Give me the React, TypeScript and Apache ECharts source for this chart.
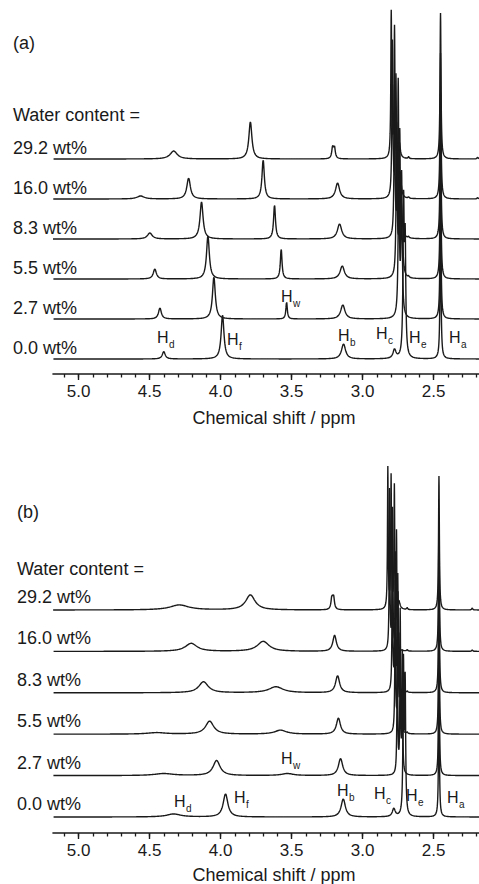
import React, { useEffect, useRef } from "react";
import * as echarts from "echarts";

// ---------- data ----------
const traceLabels = ["0.0 wt%", "2.7 wt%", "5.5 wt%", "8.3 wt%", "16.0 wt%", "29.2 wt%"];
const tickLabels = [5.0, 4.5, 4.0, 3.5, 3.0, 2.5];
const minorTicks = [5.1, 5.0, 4.9, 4.8, 4.7, 4.6, 4.5, 4.4, 4.3, 4.2, 4.1, 4.0, 3.9, 3.8, 3.7, 3.6, 3.5, 3.4, 3.3, 3.2, 3.1, 3.0, 2.9, 2.8, 2.7, 2.6, 2.5, 2.4, 2.3, 2.2];

// peaks: [chemical shift (ppm), height, half width (ppm)]
// panel (a)
const peaksA00 = [[4.40, 7.5, 0.012], [3.986, 44, 0.012], [3.134, 15, 0.017], [2.775, 9, 0.012], [2.711, 150, 0.005], [2.700, 110, 0.005], [2.451, 146, 0.004]];
const peaksA27 = [[4.427, 11, 0.012], [4.047, 42, 0.012], [3.535, 17, 0.006], [3.139, 14, 0.018], [2.745, 150, 0.005], [2.725, 140, 0.005], [2.451, 146, 0.004]];
const peaksA55 = [[4.463, 10, 0.013], [4.089, 43, 0.012], [3.573, 30, 0.007], [3.143, 13, 0.018], [2.760, 150, 0.0045], [2.738, 140, 0.0045], [2.720, 30, 0.008], [2.451, 146, 0.004], [2.676, 1.5, 0.004]];
const peaksA83 = [[4.498, 6, 0.02], [4.134, 37, 0.013], [3.620, 34, 0.008], [3.162, 15, 0.018], [2.775, 150, 0.004], [2.749, 154, 0.004], [2.728, 30, 0.008], [2.451, 146, 0.004], [2.676, 1.5, 0.004]];
const peaksA160 = [[4.563, 3, 0.03], [4.225, 21, 0.015], [3.700, 39, 0.01], [3.176, 16, 0.017], [2.790, 156, 0.004], [2.765, 120, 0.004], [2.735, 25, 0.008], [2.451, 146, 0.004], [2.676, 1.5, 0.004], [2.19, 1.5, 0.004]];
const peaksA292 = [[4.330, 8, 0.03], [3.790, 37, 0.013], [3.211, 11, 0.007], [3.198, 11, 0.007], [2.798, 146, 0.0035], [2.775, 130, 0.0035], [2.741, 15, 0.008], [2.451, 146, 0.004], [2.676, 2, 0.004], [2.19, 2, 0.004]];

// panel (b)
const peaksB00 = [[4.33, 3, 0.06], [3.965, 23, 0.02], [3.136, 18, 0.018], [2.780, 8, 0.012], [2.712, 150, 0.004], [2.700, 130, 0.004], [2.462, 134, 0.0035]];
const peaksB27 = [[4.40, 2, 0.08], [4.028, 15, 0.03], [3.530, 2, 0.05], [3.155, 17, 0.018], [2.755, 150, 0.003], [2.735, 135, 0.003], [2.720, 120, 0.003], [2.462, 134, 0.0035]];
const peaksB55 = [[4.45, 1.5, 0.08], [4.077, 13, 0.035], [3.577, 4, 0.05], [3.170, 16, 0.017], [2.770, 150, 0.003], [2.750, 135, 0.003], [2.735, 120, 0.003], [2.462, 134, 0.0035], [2.686, 1.5, 0.004]];
const peaksB83 = [[4.120, 11, 0.04], [3.610, 6, 0.06], [3.176, 17, 0.017], [2.790, 150, 0.003], [2.770, 135, 0.003], [2.752, 115, 0.003], [2.462, 134, 0.0035], [2.686, 1.5, 0.004]];
const peaksB160 = [[4.207, 8, 0.05], [3.700, 10, 0.05], [3.197, 16, 0.015], [2.810, 160, 0.003], [2.789, 140, 0.003], [2.761, 120, 0.003], [2.462, 134, 0.0035], [2.686, 1.5, 0.004], [2.228, 1.5, 0.004]];
const peaksB292 = [[4.290, 5, 0.08], [3.790, 15, 0.04], [3.216, 12, 0.007], [3.204, 12, 0.007], [2.822, 141, 0.003], [2.799, 132, 0.003], [2.776, 123, 0.003], [2.745, 8, 0.01], [2.462, 134, 0.0035], [2.686, 2, 0.004], [2.228, 2, 0.004]];

const panelAPeaks = [peaksA00, peaksA27, peaksA55, peaksA83, peaksA160, peaksA292];
const panelBPeaks = [peaksB00, peaksB27, peaksB55, peaksB83, peaksB160, peaksB292];

// peak assignment labels (subscripts)
const peakNames = ["d", "f", "w", "b", "c", "e", "a"];

// ---------- layout ----------
const FONT = "'Liberation Sans', Arial, Helvetica, sans-serif";
const X_MIN = 2.18;
const X_MAX = 5.18;
const PLOT_H = 374;
const GRID_A_TOP = 0;
const GRID_B_TOP = 459;
const BASE_A = 15, STEP_A = 40;
const BASE_B = 16, STEP_B = 41.4;
const INK = "#1a1a1a";

// label pixel anchors for H labels
const hPosA = [[163, 337], [233, 339], [287, 296], [344, 335], [382, 333], [415, 337], [455, 337]];
const hPosB = [[180, 801], [240, 797], [287, 758], [343, 790], [380, 793], [412, 795], [453, 797]];

function buildTrace(peaks: number[][], offset: number) {
  const xs: number[] = [];
  for (let i = 0; i <= 3000; i++) xs.push(X_MIN + i * 0.001);
  peaks.forEach((p) => xs.push(p[0]));
  xs.sort((a, b) => a - b);
  return xs.map((x) => {
    let y = 0;
    for (const [c, h, w] of peaks) {
      const d = (x - c) / w;
      y += h / (1 + d * d);
    }
    return [x, offset + y];
  });
}

function axes(gridIndex: number) {
  return [
    {
      gridIndex,
      type: "value",
      min: X_MIN,
      max: X_MAX,
      inverse: true,
      position: "bottom",
      axisLine: { show: true, onZero: false, lineStyle: { color: INK, width: 1.6 } },
      axisTick: { show: true, customValues: tickLabels, length: 6, inside: false, lineStyle: { color: INK, width: 1.4 } },
      axisLabel: {
        show: true,
        customValues: tickLabels,
        formatter: (v: number) => v.toFixed(1),
        fontSize: 17,
        fontFamily: FONT,
        color: INK,
        margin: 9,
      },
      splitLine: { show: false },
    },
    {
      gridIndex,
      type: "value",
      min: X_MIN,
      max: X_MAX,
      inverse: true,
      position: "bottom",
      offset: 0,
      axisLine: { show: false, onZero: false },
      axisTick: { show: true, customValues: minorTicks, length: 3.5, inside: false, lineStyle: { color: INK, width: 1.3 } },
      axisLabel: { show: false },
      splitLine: { show: false },
    },
  ];
}

function textEl(text: string, x: number, y: number, size: number, align = "left") {
  return {
    type: "text",
    x,
    y,
    silent: true,
    style: {
      text,
      font: `${size}px ${FONT}`,
      fill: INK,
      align,
      verticalAlign: "middle",
      textAlign: align,
      textVerticalAlign: "middle",
    },
  };
}

function hLabel(sub: string, cx: number, cy: number) {
  return [textEl("H", cx - 6, cy, 16), textEl(sub, cx + 6, cy + 7, 10)];
}

export default function App() {
  const ref = useRef<HTMLDivElement>(null);
  useEffect(() => {
    if (!ref.current) return;
    const chart = echarts.init(ref.current, null, { renderer: "svg" });

    const series: any[] = [];
    panelAPeaks.forEach((pk, i) => {
      series.push({
        type: "line",
        name: "(a) " + traceLabels[i],
        xAxisIndex: 0,
        yAxisIndex: 0,
        data: buildTrace(pk, BASE_A + STEP_A * i),
        showSymbol: false,
        silent: true,
        lineStyle: { color: INK, width: 1.4 },
      });
    });
    panelBPeaks.forEach((pk, i) => {
      series.push({
        type: "line",
        name: "(b) " + traceLabels[i],
        xAxisIndex: 2,
        yAxisIndex: 1,
        data: buildTrace(pk, BASE_B + STEP_B * i),
        showSymbol: false,
        silent: true,
        lineStyle: { color: INK, width: 1.4 },
      });
    });

    const graphics: any[] = [];
    graphics.push(textEl("(a)", 13, 43, 18));
    graphics.push(textEl("Water content =", 13, 115, 18));
    graphics.push(textEl("(b)", 17, 512, 18));
    graphics.push(textEl("Water content =", 17, 569, 18));
    traceLabels.forEach((t, i) => {
      graphics.push(textEl(t, 13, GRID_A_TOP + PLOT_H - (BASE_A + STEP_A * i) - 11, 18));
      graphics.push(textEl(t, 17, GRID_B_TOP + PLOT_H - (BASE_B + STEP_B * i) - 13, 18));
    });
    peakNames.forEach((s, i) => {
      graphics.push(...hLabel(s, hPosA[i][0], hPosA[i][1]));
      graphics.push(...hLabel(s, hPosB[i][0], hPosB[i][1]));
    });
    graphics.push(textEl("Chemical shift / ppm", 274, 418, 18, "center"));
    graphics.push(textEl("Chemical shift / ppm", 274, 875, 18, "center"));

    chart.setOption({
      animation: false,
      backgroundColor: "#ffffff",
      grid: [
        { left: 53, right: 0, top: GRID_A_TOP, height: PLOT_H },
        { left: 53, right: 0, top: GRID_B_TOP, height: PLOT_H },
      ],
      xAxis: [...axes(0), ...axes(1)],
      yAxis: [
        { gridIndex: 0, type: "value", min: 0, max: PLOT_H, show: false },
        { gridIndex: 1, type: "value", min: 0, max: PLOT_H, show: false },
      ],
      series,
      graphic: graphics,
    });
    return () => chart.dispose();
  }, []);
  return (
    <div
      ref={ref}
      style={{ position: "fixed", left: 0, top: 0, width: 479, height: 884, background: "#fff" }}
    />
  );
}
